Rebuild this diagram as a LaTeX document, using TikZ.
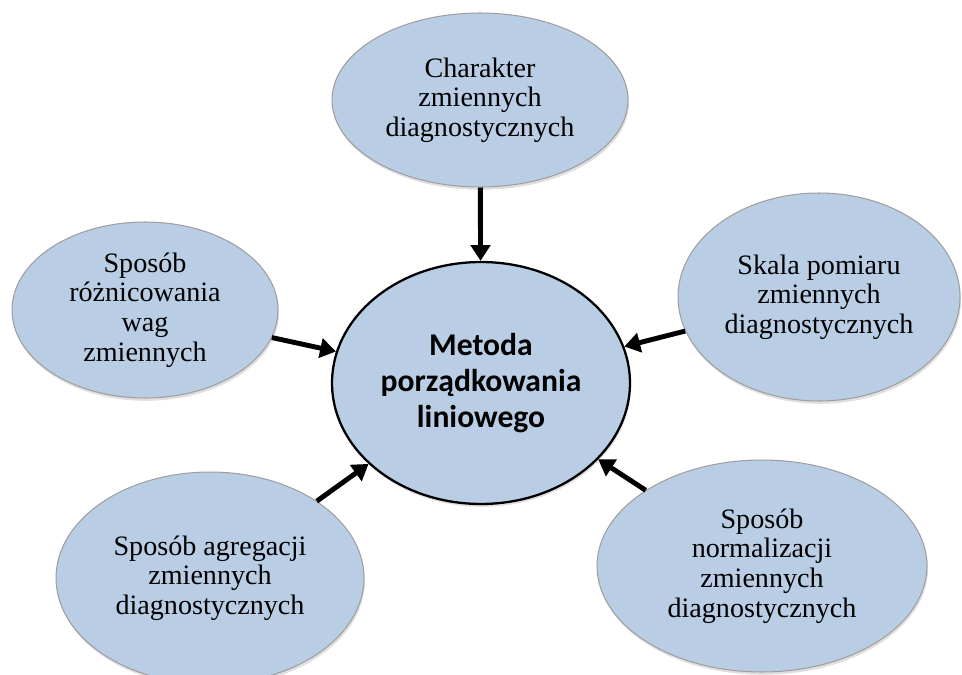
\documentclass[tikz,border=0pt]{standalone}
\usepackage{fontspec}
\setmainfont{Liberation Serif}
\newfontfamily\metodafont{Carlito}
\usetikzlibrary{arrows.meta,shapes.geometric,shadows}

\begin{document}
\begin{tikzpicture}[x=0.02cm,y=-0.02cm,
  bubble/.style={ellipse,draw=gray!75,line width=0.6pt,fill=blubg,inner sep=0pt,align=center,
    font=\fontsize{16}{16.8}\selectfont,drop shadow={shadow xshift=0.6pt,shadow yshift=-1.6pt,opacity=0.25}},
  arr/.style={line width=2.8pt,-{Triangle[length=9pt,width=11pt]}}]
\definecolor{blubg}{HTML}{B9CDE5}
\useasboundingbox (0,0) rectangle (962,675);
\node[bubble,minimum width=5.92cm,minimum height=3.48cm] (charakter) at (480,100) {Charakter\\zmiennych\\diagnostycznych};
\node[bubble,minimum width=5.32cm,minimum height=3.52cm] (wagi) at (145,310) {Sposób\\różnicowania\\wag\\zmiennych};
\node[bubble,minimum width=5.64cm,minimum height=4.16cm] (skala) at (819,297) {Skala pomiaru\\zmiennych\\diagnostycznych};
\node[bubble,minimum width=6.16cm,minimum height=4.24cm] (agregacja) at (210,578) {Sposób agregacji\\zmiennych\\diagnostycznych};
\node[bubble,minimum width=6.6cm,minimum height=4.24cm] (normalizacja) at (762,566) {Sposób\\normalizacji\\zmiennych\\diagnostycznych};
\node[bubble,draw=black,line width=1.3pt,minimum width=5.96cm,minimum height=4.84cm,
  font=\metodafont\bfseries\fontsize{18}{20.5}\selectfont] (metoda) at (481,383) {Metoda\\porządkowania\\liniowego};
\foreach \src in {charakter,wagi,skala,agregacja,normalizacja}{\draw[arr] (\src) -- (metoda);}
\end{tikzpicture}
\end{document}
